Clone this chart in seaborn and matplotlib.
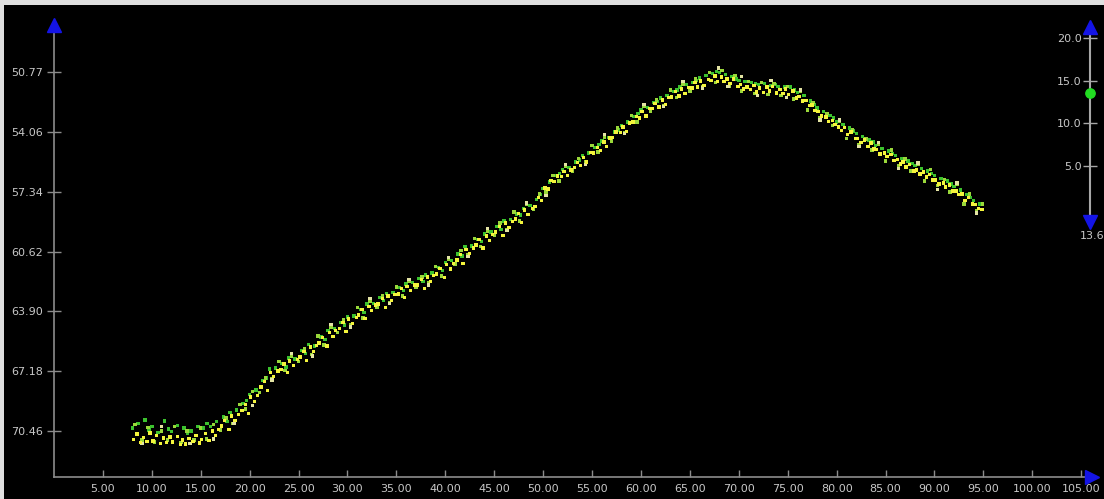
import numpy as np
import pandas as pd
import seaborn as sns
import matplotlib.pyplot as plt
from matplotlib.patches import Rectangle

# --- data (x along the track, y = depth-like value, axis inverted) ---
yellow_x = [8.1, 8.5, 8.85, 9.15, 9.5, 9.8, 10.1, 10.45, 10.9, 11.2, 11.5, 11.85,
            12.1, 12.6, 12.9, 13.15, 13.45, 13.8, 14.2, 14.5, 14.9, 15.1, 15.5, 15.85,
            16.2, 16.5, 16.8, 17.1, 17.45, 17.9, 18.15, 18.5, 18.85, 19.2, 19.55, 19.9,
            20.1, 20.5, 20.8, 21.15, 21.5, 21.85, 22.1, 22.45, 22.9, 23.2, 23.5, 23.85,
            24.1, 24.5, 24.9, 25.15, 25.55, 25.8, 26.2, 26.5, 26.85, 27.1, 27.45, 27.9,
            28.15, 28.5, 28.8, 29.2, 29.55, 29.85, 30.1, 30.5, 30.9, 31.15, 31.5, 31.8,
            32.2, 32.45, 32.85, 33.1, 33.55, 33.9, 34.15, 34.5, 34.85, 35.2, 35.5, 35.8,
            36.1, 36.45, 36.9, 37.15, 37.55, 37.85, 38.2, 38.5, 38.8, 39.1, 39.45, 39.9,
            40.15, 40.5, 40.85, 41.2, 41.55, 41.8, 42.1, 42.5, 42.9, 43.15, 43.45, 43.85,
            44.2, 44.5, 44.8, 45.1, 45.55, 45.9, 46.15, 46.5, 46.85, 47.2, 47.5, 47.8,
            48.1, 48.45, 48.9, 49.15, 49.55, 49.85, 50.2, 50.5, 50.8, 51.1, 51.45, 51.9,
            52.15, 52.5, 52.85, 53.2, 53.5, 53.8, 54.1, 54.45, 54.9, 55.15, 55.55, 55.85,
            56.2, 56.5, 56.85, 57.1, 57.45, 57.9, 58.15, 58.5, 58.8, 59.2, 59.55, 59.85,
            60.1, 60.5, 60.9, 61.15, 61.45, 61.85, 62.2, 62.5, 62.8, 63.1, 63.55, 63.9,
            64.15, 64.5, 64.85, 65.2, 65.5, 65.8, 66.1, 66.45, 66.9, 67.15, 67.55, 67.85,
            68.2, 68.5, 68.8, 69.1, 69.45, 69.9, 70.15, 70.5, 70.85, 71.2, 71.55, 71.8,
            72.1, 72.5, 72.9, 73.15, 73.45, 73.85, 74.2, 74.5, 74.8, 75.1, 75.55, 75.9,
            76.15, 76.5, 76.85, 77.2, 77.5, 77.8, 78.1, 78.45, 78.9, 79.15, 79.55, 79.85,
            80.2, 80.5, 80.8, 81.1, 81.45, 81.9, 82.15, 82.5, 82.85, 83.2, 83.5, 83.8,
            84.1, 84.45, 84.9, 85.15, 85.55, 85.85, 86.2, 86.5, 86.8, 87.1, 87.45, 87.9,
            88.15, 88.5, 88.85, 89.2, 89.5, 89.8, 90.1, 90.45, 90.9, 91.15, 91.55, 91.85,
            92.2, 92.5, 92.8, 93.1, 93.45, 93.9, 94.15, 94.5, 94.85]
yellow_y = [70.92, 70.62, 71.10, 70.80, 71.04, 70.56, 71.00, 70.70, 71.14, 70.84, 71.10, 70.78,
            71.05, 70.75, 71.20, 70.94, 71.18, 70.86, 71.02, 70.72, 71.12, 70.91, 70.61, 70.99,
            70.46, 70.70, 70.38, 70.18, 69.88, 70.36, 69.64, 69.88, 69.56, 69.32, 69.02, 69.50,
            68.60, 68.84, 68.52, 68.05, 67.75, 68.23, 67.24, 67.48, 67.16, 67.08, 66.78, 67.26,
            66.62, 66.86, 66.54, 66.40, 66.10, 66.58, 65.86, 66.10, 65.78, 65.62, 65.32, 65.80,
            65.04, 65.28, 64.96, 64.82, 64.52, 65.00, 64.32, 64.56, 64.24, 64.10, 63.80, 64.28,
            63.62, 63.86, 63.54, 63.50, 63.20, 63.68, 63.06, 63.30, 62.98, 62.95, 62.65, 63.13,
            62.52, 62.76, 62.44, 62.45, 62.15, 62.63, 62.02, 62.26, 61.94, 61.85, 61.55, 62.03,
            61.34, 61.58, 61.26, 61.08, 60.78, 61.26, 60.49, 60.73, 60.41, 60.25, 59.95, 60.43,
            59.76, 60.00, 59.68, 59.55, 59.25, 59.73, 59.04, 59.28, 58.96, 58.84, 58.54, 59.02,
            58.34, 58.58, 58.26, 58.15, 57.65, 57.83, 57.14, 57.18, 56.71, 56.78, 56.48, 56.50,
            56.22, 56.46, 56.14, 56.02, 55.72, 55.90, 55.46, 55.70, 55.18, 55.20, 54.90, 55.08,
            54.60, 54.84, 54.38, 54.36, 54.06, 54.10, 53.78, 54.02, 53.56, 53.52, 53.22, 53.30,
            52.94, 53.18, 52.76, 52.78, 52.48, 52.68, 52.30, 52.54, 52.18, 52.14, 51.84, 52.08,
            51.70, 51.94, 51.62, 51.64, 51.34, 51.60, 51.26, 51.50, 51.18, 51.22, 50.98, 51.30,
            51.04, 51.28, 51.16, 51.40, 51.16, 51.56, 51.46, 51.70, 51.58, 51.74, 51.50, 51.86,
            51.64, 51.88, 51.60, 51.82, 51.56, 51.92, 51.72, 51.96, 51.70, 52.00, 51.80, 52.20,
            52.12, 52.36, 52.34, 52.62, 52.58, 52.88, 52.94, 53.18, 53.24, 53.48, 53.42, 53.64,
            53.78, 53.96, 53.82, 54.20, 54.06, 54.40, 54.40, 54.62, 54.50, 54.85, 54.66, 55.00,
            55.02, 55.26, 55.20, 55.40, 55.30, 55.62, 55.58, 55.82, 55.70, 55.98, 55.84, 56.20,
            56.14, 56.36, 56.26, 56.52, 56.40, 56.70, 56.68, 56.92, 56.86, 57.08, 56.96, 57.30,
            57.30, 57.50, 57.46, 57.80, 57.66, 58.00, 58.04, 58.26, 58.30]

green_x = [8.0, 8.6, 9.3, 9.7, 10.0, 10.65, 11.3, 11.7, 12.0, 12.6, 13.3, 13.65,
           14.0, 14.7, 15.3, 15.65, 16.0, 16.6, 17.3, 17.7, 18.0, 18.65, 19.3, 19.7,
           20.0, 20.65, 21.3, 21.7, 22.0, 22.65, 23.3, 23.7, 24.0, 24.65, 25.3, 25.7,
           26.0, 26.65, 27.3, 27.7, 28.0, 28.65, 29.3, 29.7, 30.0, 30.65, 31.3, 31.7,
           32.0, 32.65, 33.3, 33.7, 34.0, 34.65, 35.3, 35.7, 36.0, 36.65, 37.3, 37.7,
           38.0, 38.65, 39.3, 39.7, 40.0, 40.65, 41.3, 41.7, 42.0, 42.65, 43.3, 43.7,
           44.0, 44.65, 45.3, 45.7, 46.0, 46.65, 47.3, 47.7, 48.0, 48.65, 49.3, 49.7,
           50.0, 50.65, 51.3, 51.7, 52.0, 52.65, 53.3, 53.7, 54.0, 54.65, 55.3, 55.7,
           56.0, 56.65, 57.3, 57.7, 58.0, 58.65, 59.3, 59.7, 60.0, 60.65, 61.3, 61.7,
           62.0, 62.65, 63.3, 63.7, 64.0, 64.65, 65.3, 65.7, 66.0, 66.65, 67.3, 67.7,
           68.0, 68.65, 69.3, 69.7, 70.0, 70.65, 71.3, 71.7, 72.0, 72.65, 73.3, 73.7,
           74.0, 74.65, 75.3, 75.7, 76.0, 76.65, 77.3, 77.7, 78.0, 78.65, 79.3, 79.7,
           80.0, 80.65, 81.3, 81.7, 82.0, 82.65, 83.3, 83.7, 84.0, 84.65, 85.3, 85.7,
           86.0, 86.65, 87.3, 87.7, 88.0, 88.65, 89.3, 89.7, 90.0, 90.65, 91.3, 91.7,
           92.0, 92.65, 93.3, 93.7, 94.0, 94.65]
green_y = [70.30, 70.05, 69.85, 70.40, 70.20, 70.55, 69.90, 70.35, 70.50, 70.15, 70.30, 70.60,
           70.45, 70.20, 70.30, 70.05, 70.20, 69.95, 69.70, 69.95, 69.45, 69.30, 68.95, 68.80,
           68.45, 68.20, 67.70, 67.55, 67.05, 67.00, 66.75, 66.95, 66.45, 66.50, 66.05, 66.20,
           65.70, 65.80, 65.30, 65.45, 64.95, 64.85, 64.50, 64.65, 64.20, 64.15, 63.80, 63.95,
           63.50, 63.45, 63.15, 63.30, 62.90, 62.85, 62.60, 62.75, 62.40, 62.30, 62.10, 62.25,
           61.90, 61.80, 61.50, 61.65, 61.20, 61.10, 60.75, 60.85, 60.35, 60.30, 59.95, 60.05,
           59.65, 59.55, 59.25, 59.40, 58.95, 58.85, 58.55, 58.60, 58.25, 58.10, 57.75, 57.50,
           57.15, 56.80, 56.45, 56.35, 56.10, 56.00, 55.70, 55.60, 55.35, 55.20, 54.90, 54.75,
           54.55, 54.35, 54.05, 53.95, 53.70, 53.50, 53.20, 53.05, 52.85, 52.70, 52.45, 52.40,
           52.20, 52.05, 51.85, 51.75, 51.60, 51.45, 51.35, 51.25, 51.10, 50.95, 50.85, 50.75,
           50.80, 50.90, 51.00, 51.15, 51.25, 51.30, 51.35, 51.40, 51.45, 51.40, 51.50, 51.45,
           51.55, 51.60, 51.60, 51.75, 51.90, 52.05, 52.35, 52.55, 52.75, 52.95, 53.15, 53.30,
           53.50, 53.65, 53.85, 54.00, 54.15, 54.30, 54.50, 54.60, 54.80, 54.95, 55.10, 55.25,
           55.35, 55.50, 55.65, 55.80, 55.90, 56.05, 56.20, 56.35, 56.45, 56.60, 56.75, 56.90,
           57.05, 57.25, 57.50, 57.65, 57.80, 58.00]

lime_x = [8.3, 9.0, 9.6, 10.3, 11.0, 11.6, 12.3, 13.0, 13.6, 14.3, 15.0, 15.6, 16.3, 17.0,
          17.6, 18.3, 19.0, 19.6, 20.3, 21.0, 21.6, 22.3, 23.0, 23.6, 24.3, 25.0, 25.6, 26.3,
          27.0, 27.6, 28.3, 29.0, 29.6, 30.3, 31.0, 31.6, 32.3, 33.0, 33.6, 34.3, 35.0, 35.6,
          36.3, 37.0, 37.6, 38.3, 39.0, 39.6, 40.3, 41.0, 41.6, 42.3, 43.0, 43.6, 44.3, 45.0,
          45.6, 46.3, 47.0, 47.6, 48.3, 49.0, 49.6, 50.3, 51.0, 51.6, 52.3, 53.0, 53.6, 54.3,
          55.0, 55.6, 56.3, 57.0, 57.6, 58.3, 59.0, 59.6, 60.3, 61.0, 61.6, 62.3, 63.0, 63.6,
          64.3, 65.0, 65.6, 66.3, 67.0, 67.6, 68.3, 69.0, 69.6, 70.3, 71.0, 71.6, 72.3, 73.0,
          73.6, 74.3, 75.0, 75.6, 76.3, 77.0, 77.6, 78.3, 79.0, 79.6, 80.3, 81.0, 81.6, 82.3,
          83.0, 83.6, 84.3, 85.0, 85.6, 86.3, 87.0, 87.6, 88.3, 89.0, 89.6, 90.3, 91.0, 91.6,
          92.3, 93.0, 93.6, 94.3, 94.9]
lime_y = [70.10, 70.95, 70.25, 71.05, 70.45, 70.95, 70.20, 71.10, 70.45, 70.95, 70.30, 70.90,
          70.10, 70.40, 69.75, 70.05, 69.00, 69.25, 68.30, 68.35, 67.55, 67.60, 66.65, 67.15,
          66.35, 66.65, 65.95, 66.25, 65.25, 65.75, 64.75, 65.05, 64.35, 64.65, 63.70, 64.25,
          63.35, 63.70, 63.05, 63.40, 62.55, 63.05, 62.25, 62.60, 62.00, 62.35, 61.45, 61.95,
          61.05, 61.30, 60.55, 60.80, 59.90, 60.35, 59.50, 59.75, 59.05, 59.40, 58.45, 58.95,
          58.05, 58.30, 57.45, 57.35, 56.45, 56.75, 55.95, 56.20, 55.50, 55.70, 54.80, 55.15,
          54.35, 54.55, 53.85, 54.10, 53.15, 53.50, 52.65, 52.95, 52.30, 52.60, 51.75, 52.15,
          51.45, 51.80, 51.15, 51.55, 50.80, 51.35, 50.70, 51.55, 50.95, 51.80, 51.30, 51.95,
          51.35, 52.00, 51.40, 52.05, 51.55, 52.25, 51.85, 52.85, 52.45, 53.30, 53.05, 53.70,
          53.45, 54.40, 53.95, 54.75, 54.45, 55.05, 54.75, 55.65, 55.05, 55.90, 55.55, 56.20,
          55.85, 56.75, 56.10, 57.00, 56.65, 57.35, 56.95, 58.00, 57.45, 58.35, 58.00]

pale_x = [9.0, 11.0, 13.9, 16.3, 18.4, 20.3, 22.3, 24.3, 26.4, 28.3, 30.3, 32.3, 34.3, 36.3,
          38.3, 40.3, 42.3, 44.3, 46.3, 48.3, 50.3, 52.3, 54.3, 56.3, 58.3, 60.3, 62.3, 64.3,
          66.3, 67.9, 68.9, 70.3, 71.9, 73.3, 74.9, 76.3, 78.3, 80.3, 82.3, 84.3, 86.3, 88.3,
          90.3, 92.3, 94.3]
pale_y = [71.15, 70.20, 71.15, 70.90, 70.05, 69.05, 67.65, 66.20, 66.35, 64.60, 64.75, 63.20,
          63.45, 62.15, 62.45, 60.95, 60.90, 59.35, 59.45, 57.95, 57.55, 55.85, 55.85, 54.20,
          54.15, 52.55, 52.65, 51.30, 51.65, 50.55, 51.55, 51.00, 52.05, 51.25, 52.15, 51.75,
          53.40, 53.40, 54.85, 54.65, 56.05, 55.75, 57.20, 56.85, 58.50]

y_ticks = [50.77, 54.06, 57.34, 60.62, 63.90, 67.18, 70.46]
x_ticks = [5, 10, 15, 20, 25, 30, 35, 40, 45, 50, 55, 60, 65, 70, 75, 80, 85, 90, 95, 100, 105]
slider_ticks = [5.0, 10.0, 15.0, 20.0]
slider_value = 13.6

df = pd.DataFrame({
    'x': green_x + lime_x + pale_x + yellow_x,
    'y': green_y + lime_y + pale_y + yellow_y,
    'group': (['green'] * len(green_x) + ['lime'] * len(lime_x)
              + ['pale'] * len(pale_x) + ['yellow'] * len(yellow_x)),
})
colors = {'green': '#3cc22e', 'lime': '#9ad83a', 'pale': '#e4e4a4', 'yellow': '#f4f43c'}

sns.set_style('dark')
plt.rcParams['font.family'] = ['DejaVu Sans']
text_col = '#c8c8c8'
axis_col = '#8c8c8c'
arrow_col = '#1414e6'

fig = plt.figure(figsize=(11.04, 4.99), dpi=100, facecolor='#e0e0e0')
# black panel, leaving the thin grey frame on the left and top
fig.patches.append(Rectangle((4 / 1104, 0), 1, 494 / 499, transform=fig.transFigure,
                             facecolor='black', edgecolor='none', zorder=-10))

ax = fig.add_axes([54 / 1104, 22 / 499, 1038 / 1104, 452 / 499])
ax.set_facecolor('none')
sns.scatterplot(data=df, x='x', y='y', hue='group', palette=colors, marker='s',
                s=6, linewidth=0, legend=False, ax=ax)
ax.set_xlim(0, 106.1)
ax.set_ylim(72.98, 48.19)
ax.set_xlabel('')
ax.set_ylabel('')
ax.grid(False)
for side in ['top', 'right']:
    ax.spines[side].set_visible(False)
for side in ['left', 'bottom']:
    ax.spines[side].set_visible(True)
    ax.spines[side].set_color(axis_col)
    ax.spines[side].set_linewidth(1.2)

ax.set_yticks(y_ticks)
ax.set_yticklabels([f'{v:.2f}' for v in y_ticks])
ax.set_xticks(x_ticks)
ax.set_xticklabels([f'{v:.2f}' for v in x_ticks])
ax.tick_params(axis='y', direction='inout', length=10, width=1, color=axis_col,
               labelcolor=text_col, labelsize=8, pad=3, left=True)
ax.tick_params(axis='x', direction='in', length=5, width=1, color=axis_col,
               labelcolor=text_col, labelsize=8, pad=5, bottom=True)

# arrow heads on the axes
ax.plot(0, 1, marker='^', markersize=10, color=arrow_col, transform=ax.transAxes,
        clip_on=False, zorder=5)
ax.plot(1, 0, marker='>', markersize=10, color=arrow_col, transform=ax.transAxes,
        clip_on=False, zorder=5)

# slider on the right
sl = fig.add_axes([1070 / 1104, 277 / 499, 40 / 1104, 195 / 499])
sl.set_facecolor('none')
sl.set_xlim(-1, 1)
sl.set_ylim(-1.59, 21.35)
sl.grid(False)
for side in ['top', 'right', 'bottom']:
    sl.spines[side].set_visible(False)
sl.spines['left'].set_visible(True)
sl.spines['left'].set_position(('data', 0))
sl.spines['left'].set_color('#a8a8a8')
sl.spines['left'].set_linewidth(1.5)
sl.spines['left'].set_bounds(-1.0, 20.6)
sl.set_xticks([])
sl.set_yticks(slider_ticks)
sl.set_yticklabels([f'{v:.1f}' for v in slider_ticks])
sl.tick_params(axis='y', direction='inout', length=10, width=1, color='#a8a8a8',
               labelcolor=text_col, labelsize=8, pad=1, left=True)
sl.plot(0, 1, marker='^', markersize=10, color=arrow_col, transform=sl.get_xaxis_transform(),
        clip_on=False, zorder=5)
sl.plot(0, 0, marker='v', markersize=10, color=arrow_col, transform=sl.get_xaxis_transform(),
        clip_on=False, zorder=5)
sl.scatter([0], [slider_value], s=45, color='#22dd22', zorder=6, clip_on=False)
sl.text(0.55, -0.07, f'{slider_value}', transform=sl.transAxes, ha='center', va='center',
        color=text_col, fontsize=8)

fig.savefig('out.png', dpi=100, facecolor=fig.get_facecolor())
